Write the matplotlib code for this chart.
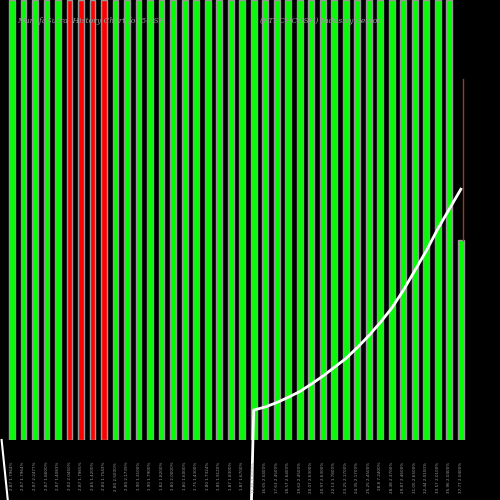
import matplotlib
matplotlib.use("Agg")
import matplotlib.pyplot as plt
import numpy as np

heights = [1.0] * 39 + [0.455]
colors = ["#00ff00"] * 5 + ["#ff0000"] * 4 + ["#00ff00"] * 31
labels = ["2.87 1.7964%", "2.87 1.7964%", "2.87 2.2477%", "2.87 1.8600%", "2.87 1.4083%",
          "2.82 2.0450%", "2.87 1.7965%", "2.85 1.4200%", "2.80 1.7543%", "2.80 2.5000%",
          "2.80 2.1739%", "1.90 1.3100%", "1.90 1.7900%", "1.82 1.8200%", "1.80 2.0000%",
          "1.80 1.6000%", "1.75 1.4300%", "1.80 1.7324%", "1.85 1.9120%", "1.87 1.8300%",
          "1.87 1.6700%", "15.55 2.0000%", "16.65 2.0400%", "17.63 2.4500%", "18.57 2.6400%",
          "19.62 2.4500%", "20.07 2.6300%", "20.97 2.6300%", "22.13 1.7800%", "23.25 2.1700%",
          "24.35 2.1700%", "25.25 2.4500%", "28.8 7.2400%", "28.38 2.3700%", "29.87 2.4600%",
          "31.05 2.6500%", "32.44 2.0100%", "33.57 2.0100%", "35.96 2.0400%", "37.77 2.0400%"]
price = [-1.0] * 21 + [0.068, 0.075, 0.085, 0.097, 0.11, 0.127, 0.145, 0.165, 0.185,
                       0.21, 0.237, 0.267, 0.30, 0.34, 0.385, 0.43, 0.48, 0.525, 0.57]
x = np.arange(len(heights))

fig = plt.figure(figsize=(5, 5), dpi=100, facecolor="black")
ax = fig.add_axes([0, 0.12, 1, 0.88])
ax.set_facecolor("black")
ax.bar(x, heights, width=0.5, color=colors, edgecolor="#999999", linewidth=1)
ax.plot([-0.9, -0.35], [0.0, -0.14], color="white", lw=1.5, clip_on=False)
ax.plot(x, price, color="white", lw=2, clip_on=False)
ax.plot([39.2, 39.2], [0.455, 0.82], color="#8b4513", lw=1)
ax.set_xlim(-1.04, 42.4)
ax.set_ylim(0, 1)
ax.axis("off")
for xi, lab in zip(x, labels):
    ax.text(xi, -0.05, lab, rotation=90, ha="center", va="top", color="#999999",
            fontsize=3, clip_on=False)
fig.text(0.035, 0.958, "MunafaSutra  History Chart for 56.SP", color="#999999",
         fontsize=5.5, family="DejaVu Serif", style="italic", va="center")
fig.text(0.52, 0.958, "(FTECHCGSH) Industry Sector", color="#999999",
         fontsize=5.5, family="DejaVu Serif", style="italic", va="center")
fig.savefig("out.png", facecolor="black")
